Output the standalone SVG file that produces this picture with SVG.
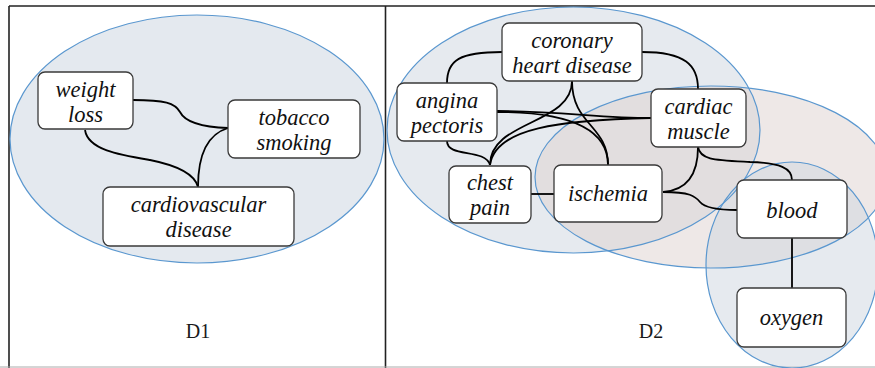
<svg xmlns="http://www.w3.org/2000/svg" width="875" height="368" viewBox="0 0 875 368">
<style>
.frame{fill:none;stroke:#222;stroke-width:1.6}
.set{stroke:none}
.setline{fill:none;stroke:#5a97cf;stroke-width:1.2}
.box{fill:#fff;stroke:#3a3a3a;stroke-width:1.3}
.lbl{font-family:"Liberation Serif","Times New Roman",serif;font-style:italic;font-size:22.5px;fill:#111;text-anchor:middle}
.cap{font-family:"Liberation Serif","Times New Roman",serif;font-size:20px;fill:#1a1a1a;text-anchor:middle}
.edge{fill:none;stroke:#000;stroke-width:1.8}
</style>
<rect x="0" y="0" width="875" height="368" fill="#fff"/>
<g id="frame">
<line x1="9" y1="6" x2="875" y2="6" class="frame"/>
<line x1="9" y1="6" x2="9" y2="368" class="frame"/>
<line x1="385.5" y1="6" x2="385.5" y2="368" class="frame"/>
<line x1="0" y1="367" x2="875" y2="367" stroke="#aaa" stroke-width="1"/>
</g>
<g id="sets">
<ellipse cx="197" cy="139" rx="187" ry="124" fill="#e4e9ef" class="set"/>
<ellipse cx="573.5" cy="130" rx="186.5" ry="123" fill="#cdd5e0" fill-opacity="0.5" class="set"/>
<ellipse cx="711" cy="177" rx="176" ry="91" fill="#ddd1cf" fill-opacity="0.5" class="set"/>
<ellipse cx="792" cy="265" rx="86" ry="103" fill="#cdd5e0" fill-opacity="0.5" class="set"/>
<ellipse cx="197" cy="139" rx="187" ry="124" class="setline"/>
<ellipse cx="573.5" cy="130" rx="186.5" ry="123" class="setline"/>
<ellipse cx="711" cy="177" rx="176" ry="91" class="setline"/>
<ellipse cx="792" cy="265" rx="86" ry="103" class="setline"/>
</g>
<g id="connectors">
<path class="edge" d="M133,100 C165,100 175,103 180,112 C185,122 200,127 228,128"/>
<path class="edge" d="M85,130 C88,150 120,155 150,160 C180,166 195,175 198,187"/>
<path class="edge" d="M228,128 C205,135 198,160 198,187"/>
<path class="edge" d="M502,52 C460,52 447,60 447,83"/>
<path class="edge" d="M642,52 C685,52 698,65 698,89"/>
<path class="edge" d="M572,81 C572,125 490,120 490,165"/>
<path class="edge" d="M572,81 C572,125 608,125 608,165"/>
<path class="edge" d="M497,112 C560,112 608,125 608,165"/>
<path class="edge" d="M497,111 C560,111 600,118 651,118"/>
<path class="edge" d="M490,165 C495,128 560,120 651,118"/>
<path class="edge" d="M447,141 C447,158 485,148 490,165"/>
<path class="edge" d="M531,194 L554,194"/>
<path class="edge" d="M663,192 C690,190 698,170 698,147"/>
<path class="edge" d="M663,192 C690,192 695,196 700,202 C705,208 720,210 737,210"/>
<path class="edge" d="M698,147 C700,160 715,160 750,162 C780,163 792,168 792,180"/>
<path class="edge" d="M792,238 L792,288"/>
</g>
<g id="weight-loss"><rect class="box" x="38" y="72" width="95" height="57" rx="7"/><text class="lbl" x="85.5" y="97">weight</text><text class="lbl" x="85.5" y="122">loss</text></g>
<g id="tobacco-smoking"><rect class="box" x="228" y="100" width="132" height="58" rx="7"/><text class="lbl" x="294" y="125">tobacco</text><text class="lbl" x="294" y="150">smoking</text></g>
<g id="cardiovascular-disease"><rect class="box" x="103" y="187" width="191" height="59" rx="7"/><text class="lbl" x="198.5" y="212">cardiovascular</text><text class="lbl" x="198.5" y="237">disease</text></g>
<g id="coronary-heart-disease"><rect class="box" x="502" y="23" width="140" height="58" rx="7"/><text class="lbl" x="572" y="48">coronary</text><text class="lbl" x="572" y="73">heart disease</text></g>
<g id="angina-pectoris"><rect class="box" x="397" y="83" width="100" height="58" rx="7"/><text class="lbl" x="447" y="108">angina</text><text class="lbl" x="447" y="133">pectoris</text></g>
<g id="cardiac-muscle"><rect class="box" x="651" y="89" width="95" height="58" rx="7"/><text class="lbl" x="698.5" y="114">cardiac</text><text class="lbl" x="698.5" y="139">muscle</text></g>
<g id="chest-pain"><rect class="box" x="449" y="166" width="82" height="57" rx="7"/><text class="lbl" x="490" y="190">chest</text><text class="lbl" x="490" y="215">pain</text></g>
<g id="ischemia"><rect class="box" x="554" y="165" width="108" height="57" rx="7"/><text class="lbl" x="608" y="201">ischemia</text></g>
<g id="blood"><rect class="box" x="737" y="180" width="110" height="58" rx="7"/><text class="lbl" x="792" y="218">blood</text></g>
<g id="oxygen"><rect class="box" x="737" y="288" width="109" height="59" rx="7"/><text class="lbl" x="791.5" y="325">oxygen</text></g>
<g id="labels"><text class="cap" x="198" y="338">D1</text><text class="cap" x="651" y="338">D2</text></g>
</svg>
